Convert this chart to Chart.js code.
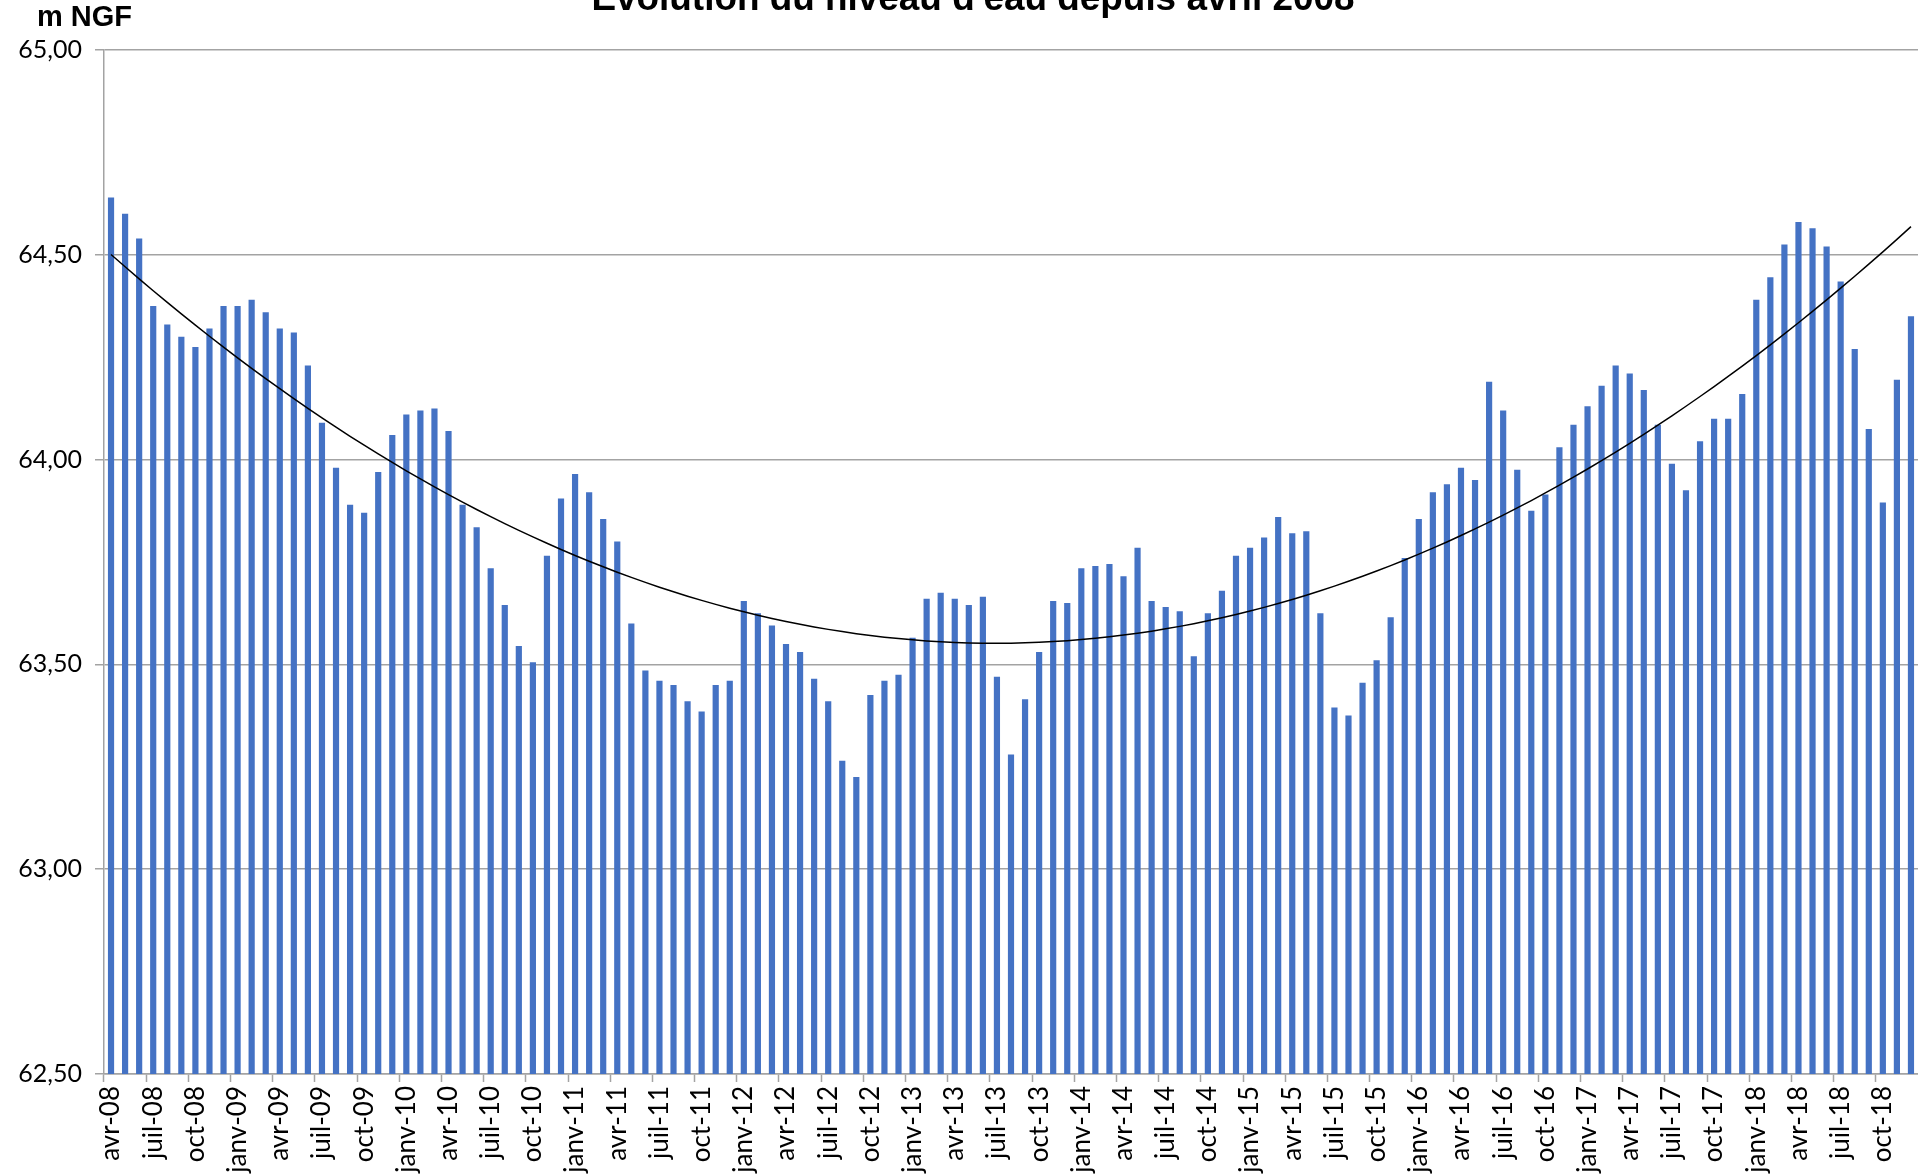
<!DOCTYPE html>
<html lang="fr">
<head>
<meta charset="utf-8">
<title>Evolution du niveau d'eau</title>
<script src="https://cdn.jsdelivr.net/npm/chart.js@4.4.1/dist/chart.umd.min.js"></script>
<style>
    html, body { margin: 0; padding: 0; background: #fff; overflow: hidden; }
    #wrap { width: 1918px; height: 1176px; position: relative; overflow: hidden; }
    canvas { display: block; }
</style>
</head>
<body>
<div id="wrap"><canvas id="niveauChart" width="1918" height="1176"></canvas></div>
<script>
// mois (avr-08 -> déc-18)
const months = [
    'avr-08', 'mai-08', 'juin-08', 'juil-08', 'août-08', 'sept-08', 'oct-08', 'nov-08', 'déc-08',
    'janv-09', 'févr-09', 'mars-09', 'avr-09', 'mai-09', 'juin-09', 'juil-09', 'août-09', 'sept-09', 'oct-09', 'nov-09', 'déc-09',
    'janv-10', 'févr-10', 'mars-10', 'avr-10', 'mai-10', 'juin-10', 'juil-10', 'août-10', 'sept-10', 'oct-10', 'nov-10', 'déc-10',
    'janv-11', 'févr-11', 'mars-11', 'avr-11', 'mai-11', 'juin-11', 'juil-11', 'août-11', 'sept-11', 'oct-11', 'nov-11', 'déc-11',
    'janv-12', 'févr-12', 'mars-12', 'avr-12', 'mai-12', 'juin-12', 'juil-12', 'août-12', 'sept-12', 'oct-12', 'nov-12', 'déc-12',
    'janv-13', 'févr-13', 'mars-13', 'avr-13', 'mai-13', 'juin-13', 'juil-13', 'août-13', 'sept-13', 'oct-13', 'nov-13', 'déc-13',
    'janv-14', 'févr-14', 'mars-14', 'avr-14', 'mai-14', 'juin-14', 'juil-14', 'août-14', 'sept-14', 'oct-14', 'nov-14', 'déc-14',
    'janv-15', 'févr-15', 'mars-15', 'avr-15', 'mai-15', 'juin-15', 'juil-15', 'août-15', 'sept-15', 'oct-15', 'nov-15', 'déc-15',
    'janv-16', 'févr-16', 'mars-16', 'avr-16', 'mai-16', 'juin-16', 'juil-16', 'août-16', 'sept-16', 'oct-16', 'nov-16', 'déc-16',
    'janv-17', 'févr-17', 'mars-17', 'avr-17', 'mai-17', 'juin-17', 'juil-17', 'août-17', 'sept-17', 'oct-17', 'nov-17', 'déc-17',
    'janv-18', 'févr-18', 'mars-18', 'avr-18', 'mai-18', 'juin-18', 'juil-18', 'août-18', 'sept-18', 'oct-18', 'nov-18', 'déc-18'
];

// niveau mensuel (m NGF)
const niveau2008 = [64.64, 64.60, 64.54, 64.375, 64.33, 64.30, 64.275, 64.32, 64.375];
const niveau2009 = [64.375, 64.39, 64.36, 64.32, 64.31, 64.23, 64.09, 63.98, 63.89, 63.87, 63.97, 64.06];
const niveau2010 = [64.11, 64.12, 64.125, 64.07, 63.89, 63.835, 63.735, 63.645, 63.545, 63.505, 63.765, 63.905];
const niveau2011 = [63.965, 63.92, 63.855, 63.80, 63.60, 63.485, 63.46, 63.45, 63.41, 63.385, 63.45, 63.46];
const niveau2012 = [63.655, 63.625, 63.595, 63.55, 63.53, 63.465, 63.41, 63.265, 63.225, 63.425, 63.46, 63.475];
const niveau2013 = [63.565, 63.66, 63.675, 63.66, 63.645, 63.665, 63.47, 63.28, 63.415, 63.53, 63.655, 63.65];
const niveau2014 = [63.735, 63.74, 63.745, 63.715, 63.785, 63.655, 63.64, 63.63, 63.52, 63.625, 63.68, 63.765];
const niveau2015 = [63.785, 63.81, 63.86, 63.82, 63.825, 63.625, 63.395, 63.375, 63.455, 63.51, 63.615, 63.76];
const niveau2016 = [63.855, 63.92, 63.94, 63.98, 63.95, 64.19, 64.12, 63.975, 63.875, 63.915, 64.03, 64.085];
const niveau2017 = [64.13, 64.18, 64.23, 64.21, 64.17, 64.085, 63.99, 63.925, 64.045, 64.10, 64.10, 64.16];
const niveau2018 = [64.39, 64.445, 64.525, 64.58, 64.565, 64.52, 64.435, 64.27, 64.075, 63.895, 64.195, 64.35];

const niveau = [].concat(niveau2008, niveau2009, niveau2010, niveau2011, niveau2012, niveau2013,
    niveau2014, niveau2015, niveau2016, niveau2017, niveau2018);

// axe Y
const yMin = 62.5;
const yMax = 65;
const yStep = 0.5;

// courbe de tendance polynomiale (ordre 2), moindres carrés
function polyTrend(values) {
    const n = values.length;
    let s = [0, 0, 0, 0, 0], t = [0, 0, 0];
    values.forEach((v, i) => {
        let p = 1;
        for (let k = 0; k < 5; k++) { s[k] += p; if (k < 3) t[k] += p * v; p *= i; }
    });
    const m = [[s[0], s[1], s[2], t[0]], [s[1], s[2], s[3], t[1]], [s[2], s[3], s[4], t[2]]];
    for (let c = 0; c < 3; c++) {
        for (let r = c + 1; r < 3; r++) {
            const f = m[r][c] / m[c][c];
            for (let k = c; k < 4; k++) m[r][k] -= f * m[c][k];
        }
    }
    const a = [0, 0, 0];
    for (let r = 2; r >= 0; r--) {
        let sum = m[r][3];
        for (let k = r + 1; k < 3; k++) sum -= m[r][k] * a[k];
        a[r] = sum / m[r][r];
    }
    return values.map((v, i) => a[0] + a[1] * i + a[2] * i * i);
}

const gridGray = '#a3a3a3';

const titlePlugin = {
    id: 'titres',
    afterDraw(chart) {
        const ctx = chart.ctx;
        ctx.save();
        ctx.fillStyle = '#000';
        ctx.textBaseline = 'alphabetic';
        // titre principal (coupé en haut)
        const title = "Evolution du niveau d'eau depuis avril 2008";
        ctx.font = 'bold 100px "Liberation Sans", Arial, sans-serif';
        const size = 100 * 764 / ctx.measureText(title).width;
        ctx.font = 'bold ' + size.toFixed(1) + 'px "Liberation Sans", Arial, sans-serif';
        ctx.textAlign = 'center';
        ctx.fillText(title, 973, 10);
        // unité
        ctx.font = 'bold 29px "Liberation Sans", Arial, sans-serif';
        ctx.textAlign = 'left';
        ctx.fillText('m NGF', 37, 26);
        ctx.restore();
    }
};

const ctx = document.getElementById('niveauChart').getContext('2d');
new Chart(ctx, {
    type: 'bar',
    data: {
        labels: months,
        datasets: [{
            type: 'line',
            label: 'Tendance',
            data: polyTrend(niveau),
            borderColor: '#000',
            borderWidth: 1.5,
            pointRadius: 0,
            tension: 0,
            fill: false,
            order: 0
        }, {
            label: 'Niveau',
            data: niveau,
            backgroundColor: '#4472C4',
            borderWidth: 0,
            barPercentage: 0.44,
            categoryPercentage: 1.0,
            order: 1
        }]
    },
    options: {
        responsive: false,
        animation: false,
        devicePixelRatio: 1,
        layout: { padding: { top: 50, left: 0, right: 0, bottom: 0 } },
        plugins: {
            legend: { display: false },
            tooltip: { enabled: false },
            title: { display: false }
        },
        scales: {
            x: {
                type: 'category',
                offset: true,
                grid: {
                    offset: true,
                    drawOnChartArea: false,
                    drawTicks: true,
                    tickLength: 8,
                    tickWidth: 1.5,
                    tickColor: c => (c.index % 3 === 0 ? gridGray : 'rgba(0,0,0,0)')
                },
                border: { display: true, color: gridGray, width: 1.5 },
                ticks: {
                    autoSkip: false,
                    minRotation: 90,
                    maxRotation: 90,
                    padding: 4,
                    color: '#000',
                    font: { family: 'Lato, "Liberation Sans", sans-serif', size: 26 },
                    callback: function(value, index) {
                        return index % 3 === 0 ? this.getLabelForValue(value) : '';
                    }
                },
                afterFit: s => { s.height = 102; s.paddingLeft = 0; s.paddingRight = 0; }
            },
            y: {
                min: yMin,
                max: yMax,
                grid: {
                    color: gridGray,
                    lineWidth: 1.5,
                    tickLength: 9
                },
                border: { display: true, color: gridGray, width: 1.5 },
                ticks: {
                    stepSize: yStep,
                    padding: 13,
                    color: '#000',
                    font: { family: 'Lato, "Liberation Sans", sans-serif', size: 25 },
                    callback: v => v.toFixed(2).replace('.', ',')
                },
                afterFit: s => { s.width = 104; }
            }
        }
    },
    plugins: [titlePlugin]
});
</script>
</body>
</html>
